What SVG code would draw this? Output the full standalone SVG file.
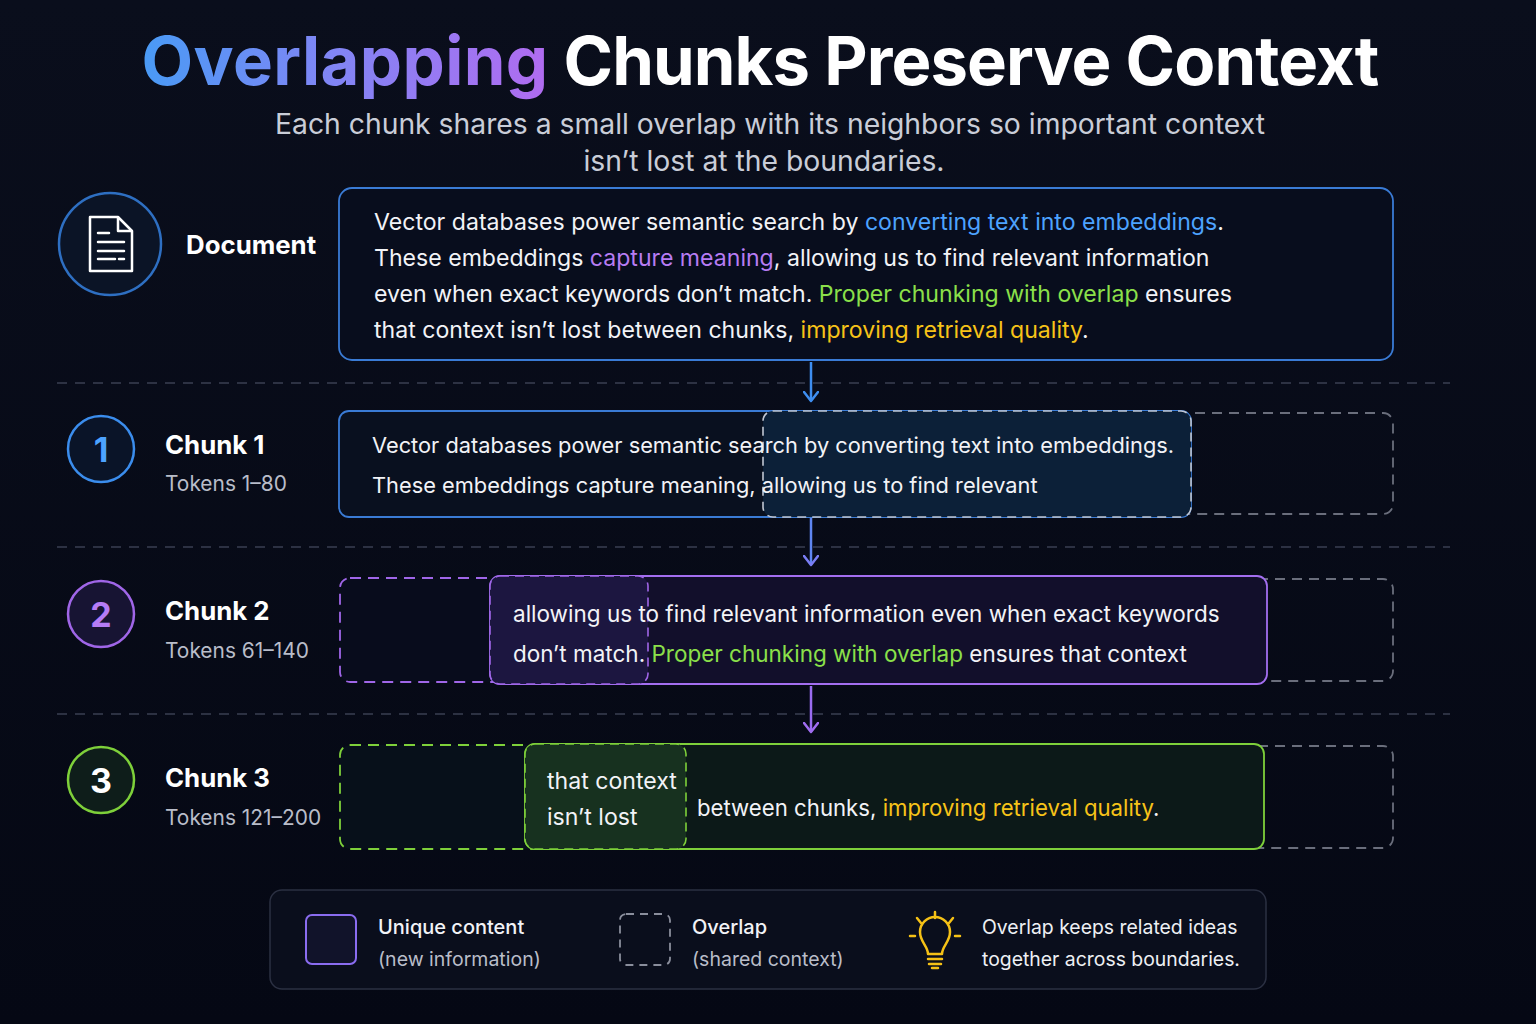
<svg xmlns="http://www.w3.org/2000/svg" width="1536" height="1024" viewBox="0 0 1536 1024">
<defs>
<linearGradient id="bg" x1="0" y1="0" x2="0" y2="1">
<stop offset="0" stop-color="#0a0e1c"/>
<stop offset="1" stop-color="#050814"/>
</linearGradient>
<linearGradient id="tg" gradientUnits="userSpaceOnUse" x1="145" y1="0" x2="545" y2="0">
<stop offset="0" stop-color="#4a9af5"/>
<stop offset="0.45" stop-color="#7f86f5"/>
<stop offset="1" stop-color="#b06cf0"/>
</linearGradient>
<marker id="ab" viewBox="0 0 16 12" refX="8" refY="10" markerWidth="16" markerHeight="12" markerUnits="userSpaceOnUse">
<path d="M1 1 L8 10 L15 1" fill="none" stroke="#3e8ef0" stroke-width="2.5" stroke-linecap="round" stroke-linejoin="round"/>
</marker>
<marker id="av" viewBox="0 0 16 12" refX="8" refY="10" markerWidth="16" markerHeight="12" markerUnits="userSpaceOnUse">
<path d="M1 1 L8 10 L15 1" fill="none" stroke="#7a7ef5" stroke-width="2.5" stroke-linecap="round" stroke-linejoin="round"/>
</marker>
<marker id="ap" viewBox="0 0 16 12" refX="8" refY="10" markerWidth="16" markerHeight="12" markerUnits="userSpaceOnUse">
<path d="M1 1 L8 10 L15 1" fill="none" stroke="#a06cf0" stroke-width="2.5" stroke-linecap="round" stroke-linejoin="round"/>
</marker>
</defs>
<style>
text{font-family:Inter,"Noto Sans","Liberation Sans",sans-serif}
.title{font-size:67px;font-weight:700}
.sub{font-size:28.3px;fill:#c9cdd8}
.body{font-size:23.1px;fill:#f2f3f7}
.c1{font-size:21.8px;fill:#f2f3f7}
.c2{font-size:22.5px;fill:#f2f3f7}
.c3{font-size:22.2px;fill:#f2f3f7}
.lbl{font-size:25.8px;font-weight:700;fill:#ffffff}
.tok{font-size:20.9px;fill:#b9bdc9}
.num{font-size:34px;font-weight:700;text-anchor:middle}
.leg{font-size:20px;fill:#f2f3f7;font-weight:500}
.legs{font-size:19.5px;fill:#b9bdc9}
.legr{font-size:19.4px;fill:#eef0f4}
.blue{fill:#4da3ff}.purple{fill:#b77cf3}.green{fill:#8be04a}.yellow{fill:#f7c318}
.div{stroke:#3a3f52;stroke-width:1.5;stroke-dasharray:10 8;fill:none}
.ghost{fill:none;stroke:#6a6e7c;stroke-width:1.8;stroke-dasharray:10 7}
</style>
<rect width="1536" height="1024" fill="url(#bg)"/>

<g id="title">
<text x="760" y="85" text-anchor="middle" class="title"><tspan fill="url(#tg)" letter-spacing="0.4">Overlapping</tspan><tspan fill="#ffffff" letter-spacing="-0.9"> Chunks Preserve Context</tspan></text>
<text x="770" y="134" text-anchor="middle" class="sub">Each chunk shares a small overlap with its neighbors so important context</text>
<text x="764" y="171" text-anchor="middle" class="sub">isn’t lost at the boundaries.</text>
</g>

<g id="dividers">
<line x1="57" y1="383" x2="1450" y2="383" class="div"/>
<line x1="57" y1="547" x2="1450" y2="547" class="div"/>
<line x1="57" y1="714" x2="1450" y2="714" class="div"/>
</g>

<g id="document">
<circle cx="110" cy="244" r="51" fill="#0b1426" stroke="#2e6fc2" stroke-width="2.5"/>
<path d="M90 217 H118 L132 231 V271 H90 Z" fill="none" stroke="#ffffff" stroke-width="2.5" stroke-linejoin="round"/>
<path d="M118 217 V231 H132" fill="none" stroke="#ffffff" stroke-width="2.5" stroke-linejoin="round"/>
<path d="M98 233 H109 M98 242 H124 M98 251 H124 M98 259 H115 M119 259 H124" stroke="#ffffff" stroke-width="2.5" stroke-linecap="round"/>
<text x="186" y="254" class="lbl">Document</text>
<rect x="339" y="188" width="1054" height="172" rx="13" fill="#080d1d" stroke="#3a7bd5" stroke-width="1.8"/>
<text x="374" y="230" class="body">Vector databases power semantic search by <tspan class="blue">converting text into embeddings</tspan>.</text>
<text x="374" y="266" class="body">These embeddings <tspan class="purple">capture meaning</tspan>, allowing us to find relevant information</text>
<text x="374" y="302" class="body">even when exact keywords don’t match. <tspan class="green">Proper chunking with overlap</tspan> ensures</text>
<text x="374" y="338" class="body">that context isn’t lost between chunks, <tspan class="yellow">improving retrieval quality</tspan>.</text>
</g>

<g id="chunk1">
<circle cx="101" cy="449" r="33" fill="#0a1428" stroke="#3b8ded" stroke-width="2.5"/>
<text x="101" y="462" class="num" fill="#4da3ff">1</text>
<text x="165" y="454" class="lbl">Chunk 1</text>
<text x="165" y="491" class="tok">Tokens 1–80</text>
<rect x="1100" y="413" width="293" height="101" rx="10" class="ghost"/>
<rect x="339" y="411" width="852" height="106" rx="10" fill="#09101f" stroke="#3a7bd5" stroke-width="1.8"/>
<rect x="763" y="411" width="428" height="106" rx="10" fill="#0c2038" stroke="#c0c6d2" stroke-width="1.6" stroke-dasharray="9 6"/>
<text x="372" y="453" class="c1">Vector databases power semantic search by converting text into embeddings.</text>
<text x="372" y="493" class="c1">These embeddings capture meaning, allowing us to find relevant</text>
</g>

<g id="chunk2">
<circle cx="101" cy="614" r="33" fill="#171433" stroke="#a066e8" stroke-width="2.5"/>
<text x="101" y="627" class="num" fill="#b57cf5">2</text>
<text x="165" y="620" class="lbl">Chunk 2</text>
<text x="165" y="658" class="tok">Tokens 61–140</text>
<rect x="1180" y="579" width="213" height="102" rx="10" class="ghost"/>
<rect x="340" y="578" width="200" height="104" rx="10" fill="#080c1c" stroke="#a066e8" stroke-width="1.8" stroke-dasharray="11 7"/>
<rect x="490" y="576" width="777" height="108" rx="10" fill="#120f2b" stroke="#a36ef0" stroke-width="1.8"/>
<rect x="490" y="576" width="158" height="108" rx="10" fill="#1c1640" stroke="#a066e8" stroke-width="1.6" stroke-dasharray="9 6"/>
<text x="513" y="622" class="c2">allowing us to find relevant information even when exact keywords</text>
<text x="513" y="662" class="c2">don’t match. <tspan class="green">Proper chunking with overlap</tspan> ensures that context</text>
</g>

<g id="chunk3">
<circle cx="101" cy="780" r="33" fill="#0e1d1a" stroke="#7ed03a" stroke-width="2.5"/>
<text x="101" y="793" class="num" fill="#ffffff">3</text>
<text x="165" y="787" class="lbl">Chunk 3</text>
<text x="165" y="825" class="tok">Tokens 121–200</text>
<rect x="1180" y="746" width="213" height="102" rx="10" class="ghost"/>
<rect x="340" y="745" width="220" height="104" rx="10" fill="#07101a" stroke="#7ed03a" stroke-width="1.8" stroke-dasharray="11 7"/>
<rect x="525" y="744" width="739" height="105" rx="10" fill="#0c1918" stroke="#7ed03a" stroke-width="1.8"/>
<rect x="525" y="744" width="161" height="105" rx="10" fill="#17311f" stroke="#7ed03a" stroke-width="1.6" stroke-dasharray="9 6"/>
<text x="547" y="789" class="body">that context</text>
<text x="547" y="825" class="body">isn’t lost</text>
<text x="697" y="816" class="c3">between chunks, <tspan class="yellow">improving retrieval quality</tspan>.</text>
</g>

<g id="connectors">
<line x1="811" y1="362" x2="811" y2="401" stroke="#3e8ef0" stroke-width="2.5" marker-end="url(#ab)"/>
<line x1="811" y1="518" x2="811" y2="565" stroke="#5f86f2" stroke-width="2.5" marker-end="url(#av)"/>
<line x1="811" y1="686" x2="811" y2="732" stroke="#9a6cf0" stroke-width="2.5" marker-end="url(#ap)"/>
</g>

<g id="legend">
<rect x="270" y="890" width="996" height="99" rx="12" fill="#0a0e1c" stroke="#2b3042" stroke-width="1.5"/>
<rect x="306" y="915" width="50" height="49" rx="6" fill="#11132a" stroke="#8a6cf0" stroke-width="2"/>
<text x="378" y="934" class="leg">Unique content</text>
<text x="378" y="966" class="legs">(new information)</text>
<rect x="620" y="914" width="50" height="51" rx="6" fill="none" stroke="#8a8e9c" stroke-width="1.8" stroke-dasharray="8 6"/>
<text x="692" y="934" class="leg">Overlap</text>
<text x="692" y="966" class="legs">(shared context)</text>
<g fill="none" stroke="#f5c116" stroke-width="2.5" stroke-linecap="round" stroke-linejoin="round">
<path d="M928 954 C928 946 920 942 920 932 A15 15 0 0 1 950 932 C950 942 942 946 942 954 Z"/>
<path d="M928 959 H942 M929 964 H941 M932 968 H938"/>
<path d="M935 912 V918 M917 918 L921 923 M953 918 L949 923 M910 936 H915 M955 936 H960"/>
</g>
<text x="982" y="934" class="legr">Overlap keeps related ideas</text>
<text x="982" y="966" class="legr">together across boundaries.</text>
</g>
</svg>
